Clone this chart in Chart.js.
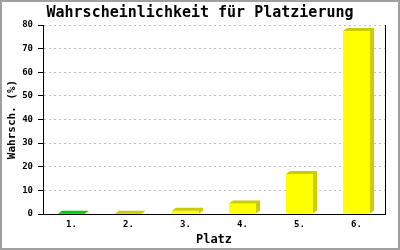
<!DOCTYPE html>
<html>
<head>
<meta charset="utf-8">
<script src="https://cdn.jsdelivr.net/npm/chart.js@4"></script>
<style>
  body { margin: 0; background: #fff; }
  #wrap { width: 400px; height: 250px; }
</style>
</head>
<body>
<div id="wrap"><canvas id="myBarChart" width="400" height="250"></canvas></div>
<script>
const places = ["1.", "2.", "3.", "4.", "5.", "6."];
const chances = [0.1, 0.1, 1.4, 4.4, 16.9, 77.5];
const frontColors = ["#00ff00", "#ffff00", "#ffff00", "#ffff00", "#ffff00", "#ffff00"];
const darkColors = ["#00cc00", "#cccc00", "#cccc00", "#cccc00", "#cccc00", "#cccc00"];

const mono = "'DejaVu Sans Mono', monospace";

// white background + grey frame around the picture
const framePlugin = {
  id: "frame",
  beforeDraw(chart) {
    const c = chart.ctx;
    c.save();
    c.fillStyle = "#fff";
    c.fillRect(0, 0, chart.width, chart.height);
    c.restore();
  },
  afterDraw(chart) {
    const c = chart.ctx;
    c.save();
    c.strokeStyle = "#a0a0a0";
    c.lineWidth = 2;
    c.strokeRect(1, 1, chart.width - 2, chart.height - 2);
    c.restore();
  },
};

// top + side faces for the 3d look
const depthPlugin = {
  id: "depth",
  afterDatasetsDraw(chart) {
    const c = chart.ctx;
    const d = 4, h = 3;
    chart.getDatasetMeta(0).data.forEach((bar, i) => {
      const { x, y, base, width } = bar.getProps(["x", "y", "base", "width"], true);
      const left = x - width / 2;
      const right = x + width / 2;
      c.save();
      c.fillStyle = darkColors[i];
      c.beginPath();
      c.moveTo(left, y);
      c.lineTo(left + d, y - h);
      c.lineTo(right + d, y - h);
      c.lineTo(right + d, base - h);
      c.lineTo(right, base);
      c.lineTo(right, y);
      c.closePath();
      c.fill();
      c.restore();
    });
  },
};

const ctx1 = document.getElementById("myBarChart");

new Chart(ctx1, {
  type: "bar",
  data: {
    labels: places,
    datasets: [
      {
        data: chances,
        backgroundColor: frontColors,
        borderWidth: 0,
        barPercentage: 0.474,
        categoryPercentage: 1,
      },
    ],
  },
  options: {
    responsive: false,
    animation: false,
    layout: { padding: 0 },
    plugins: {
      legend: { display: false },
      tooltip: { enabled: false },
      title: {
        display: true,
        text: "Wahrscheinlichkeit für Platzierung",
        color: "#000",
        font: { family: mono, size: 15, weight: "bold" },
        padding: { top: 4, bottom: 3 },
      },
    },
    scales: {
      x: {
        grid: { display: false, drawTicks: false },
        border: { color: "#000", width: 1, z: 1 },
        ticks: {
          color: "#000",
          padding: 5,
          font: { family: mono, size: 9, weight: "bold" },
        },
        title: {
          display: true,
          text: "Platz",
          color: "#000",
          font: { family: mono, size: 12, weight: "bold" },
          padding: { top: 0, bottom: 3 },
        },
        afterFit(scale) {
          scale.height = 36;
        },
      },
      y: {
        min: 0,
        max: 80,
        grid: {
          color: "#c0c0c0",
          tickColor: "#000",
          tickLength: 5,
          tickBorderDash: [],
        },
        border: { color: "#000", width: 1, dash: [2, 3], z: 1 },
        ticks: {
          stepSize: 10,
          color: "#000",
          padding: 5,
          font: { family: mono, size: 9, weight: "bold" },
        },
        title: {
          display: true,
          text: "Wahrsch. (%)",
          color: "#000",
          font: { family: mono, size: 11, weight: "bold" },
          padding: { top: 6, bottom: 0 },
        },
        afterFit(scale) {
          scale.width = 43;
        },
      },
      y2: {
        position: "right",
        min: 0,
        max: 80,
        grid: { drawOnChartArea: false, drawTicks: false },
        border: { color: "#000", width: 1 },
        ticks: { display: false },
        afterFit(scale) {
          scale.width = 15;
        },
      },
    },
  },
  plugins: [framePlugin, depthPlugin],
});
</script>
</body>
</html>
